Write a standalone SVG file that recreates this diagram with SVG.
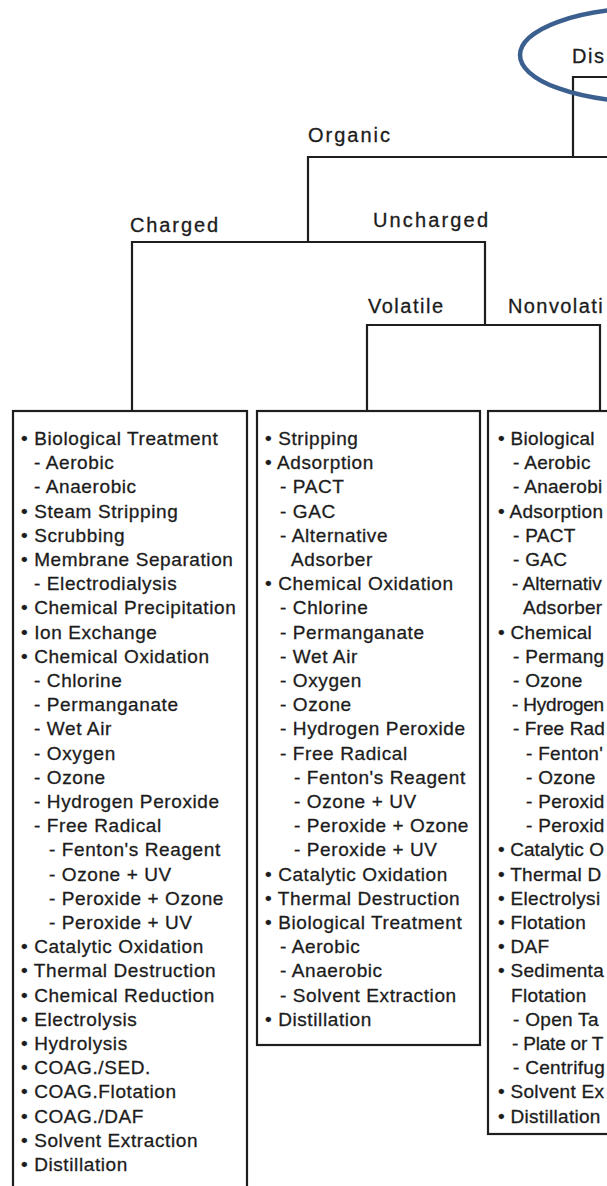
<svg xmlns="http://www.w3.org/2000/svg" width="607" height="1186" viewBox="0 0 607 1186">
<style>
.t{font-family:"Liberation Sans",Arial,sans-serif;font-size:19px;letter-spacing:0.6px;fill:#1c1c1c;stroke:#1c1c1c;stroke-width:0.3px}
.r{letter-spacing:0.3px}
.l{font-family:"Liberation Sans",Arial,sans-serif;font-size:20px;fill:#1c1c1c;stroke:#1c1c1c;stroke-width:0.3px}
.box{fill:none;stroke:#1e1e1e;stroke-width:2.2}
.c{fill:none;stroke:#1e1e1e;stroke-width:2.2}
</style>
<rect width="607" height="1186" fill="#fff"/>
<g id="connectors">
<path class="c" d="M607,77 H573 V157"/>
<path class="c" d="M607,157 H308 V242"/>
<path class="c" d="M132,411 V242 H485 V325"/>
<path class="c" d="M367,411 V325 H600 V411"/>
</g>
<g id="highlight">
<ellipse cx="650" cy="55" rx="130" ry="47" fill="none" stroke="#3b5f8e" stroke-width="4.5"/>
</g>
<g id="labels">
<text class="l" x="572" y="63" letter-spacing="1.5">Dis</text>
<text class="l" x="308" y="142" textLength="82" lengthAdjust="spacing">Organic</text>
<text class="l" x="130" y="232" textLength="88" lengthAdjust="spacing">Charged</text>
<text class="l" x="373" y="227" textLength="115" lengthAdjust="spacing">Uncharged</text>
<text class="l" x="368" y="313" textLength="75" lengthAdjust="spacing">Volatile</text>
<text class="l" x="508" y="313" letter-spacing="1.4">Nonvolati</text>
</g>
<g id="charged">
<rect class="box" x="13" y="411" width="234" height="800"/>
<text class="t" y="445">
<tspan x="21">• Biological Treatment</tspan>
<tspan x="34" dy="24.2">- Aerobic</tspan>
<tspan x="34" dy="24.2">- Anaerobic</tspan>
<tspan x="21" dy="24.2">• Steam Stripping</tspan>
<tspan x="21" dy="24.2">• Scrubbing</tspan>
<tspan x="21" dy="24.2">• Membrane Separation</tspan>
<tspan x="34" dy="24.2">- Electrodialysis</tspan>
<tspan x="21" dy="24.2">• Chemical Precipitation</tspan>
<tspan x="21" dy="24.2">• Ion Exchange</tspan>
<tspan x="21" dy="24.2">• Chemical Oxidation</tspan>
<tspan x="34" dy="24.2">- Chlorine</tspan>
<tspan x="34" dy="24.2">- Permanganate</tspan>
<tspan x="34" dy="24.2">- Wet Air</tspan>
<tspan x="34" dy="24.2">- Oxygen</tspan>
<tspan x="34" dy="24.2">- Ozone</tspan>
<tspan x="34" dy="24.2">- Hydrogen Peroxide</tspan>
<tspan x="34" dy="24.2">- Free Radical</tspan>
<tspan x="49" dy="24.2">- Fenton's Reagent</tspan>
<tspan x="49" dy="24.2">- Ozone + UV</tspan>
<tspan x="49" dy="24.2">- Peroxide + Ozone</tspan>
<tspan x="49" dy="24.2">- Peroxide + UV</tspan>
<tspan x="21" dy="24.2">• Catalytic Oxidation</tspan>
<tspan x="21" dy="24.2">• Thermal Destruction</tspan>
<tspan x="21" dy="24.2">• Chemical Reduction</tspan>
<tspan x="21" dy="24.2">• Electrolysis</tspan>
<tspan x="21" dy="24.2">• Hydrolysis</tspan>
<tspan x="21" dy="24.2">• COAG./SED.</tspan>
<tspan x="21" dy="24.2">• COAG.Flotation</tspan>
<tspan x="21" dy="24.2">• COAG./DAF</tspan>
<tspan x="21" dy="24.2">• Solvent Extraction</tspan>
<tspan x="21" dy="24.2">• Distillation</tspan>
</text>
</g>
<g id="volatile">
<rect class="box" x="257" y="411" width="223" height="634" stroke-width="2.8"/>
<text class="t" y="445">
<tspan x="265">• Stripping</tspan>
<tspan x="265" dy="24.2">• Adsorption</tspan>
<tspan x="280" dy="24.2">- PACT</tspan>
<tspan x="280" dy="24.2">- GAC</tspan>
<tspan x="280" dy="24.2">- Alternative</tspan>
<tspan x="291" dy="24.2">Adsorber</tspan>
<tspan x="265" dy="24.2">• Chemical Oxidation</tspan>
<tspan x="280" dy="24.2">- Chlorine</tspan>
<tspan x="280" dy="24.2">- Permanganate</tspan>
<tspan x="280" dy="24.2">- Wet Air</tspan>
<tspan x="280" dy="24.2">- Oxygen</tspan>
<tspan x="280" dy="24.2">- Ozone</tspan>
<tspan x="280" dy="24.2">- Hydrogen Peroxide</tspan>
<tspan x="280" dy="24.2">- Free Radical</tspan>
<tspan x="294" dy="24.2">- Fenton's Reagent</tspan>
<tspan x="294" dy="24.2">- Ozone + UV</tspan>
<tspan x="294" dy="24.2">- Peroxide + Ozone</tspan>
<tspan x="294" dy="24.2">- Peroxide + UV</tspan>
<tspan x="265" dy="24.2">• Catalytic Oxidation</tspan>
<tspan x="265" dy="24.2">• Thermal Destruction</tspan>
<tspan x="265" dy="24.2">• Biological Treatment</tspan>
<tspan x="280" dy="24.2">- Aerobic</tspan>
<tspan x="280" dy="24.2">- Anaerobic</tspan>
<tspan x="280" dy="24.2">- Solvent Extraction</tspan>
<tspan x="265" dy="24.2">• Distillation</tspan>
</text>
</g>
<g id="nonvolatile">
<rect class="box" x="488" y="411" width="140" height="723"/>
<text class="t r" y="445">
<tspan x="498">• Biological</tspan>
<tspan x="513" dy="24.2">- Aerobic</tspan>
<tspan x="513" dy="24.2">- Anaerobi</tspan>
<tspan x="498" dy="24.2">• Adsorption</tspan>
<tspan x="513" dy="24.2">- PACT</tspan>
<tspan x="513" dy="24.2">- GAC</tspan>
<tspan x="512" dy="24.2" letter-spacing="0">- Alternativ</tspan>
<tspan x="523" dy="24.2">Adsorber</tspan>
<tspan x="498" dy="24.2">• Chemical</tspan>
<tspan x="513" dy="24.2">- Permang</tspan>
<tspan x="513" dy="24.2">- Ozone</tspan>
<tspan x="512" dy="24.2" letter-spacing="-0.2">- Hydrogen</tspan>
<tspan x="513" dy="24.2" letter-spacing="0.1">- Free Rad</tspan>
<tspan x="526" dy="24.2">- Fenton'</tspan>
<tspan x="526" dy="24.2">- Ozone</tspan>
<tspan x="526" dy="24.2">- Peroxid</tspan>
<tspan x="526" dy="24.2">- Peroxid</tspan>
<tspan x="498" dy="24.2" letter-spacing="0.1">• Catalytic O</tspan>
<tspan x="498" dy="24.2">• Thermal D</tspan>
<tspan x="498" dy="24.2">• Electrolysi</tspan>
<tspan x="498" dy="24.2">• Flotation</tspan>
<tspan x="498" dy="24.2">• DAF</tspan>
<tspan x="498" dy="24.2">• Sedimenta</tspan>
<tspan x="511" dy="24.2">Flotation</tspan>
<tspan x="513" dy="24.2">- Open Ta</tspan>
<tspan x="512" dy="24.2" letter-spacing="-0.2">- Plate or T</tspan>
<tspan x="513" dy="24.2">- Centrifug</tspan>
<tspan x="498" dy="24.2">• Solvent Ex</tspan>
<tspan x="498" dy="24.2">• Distillation</tspan>
</text>
</g>
</svg>
